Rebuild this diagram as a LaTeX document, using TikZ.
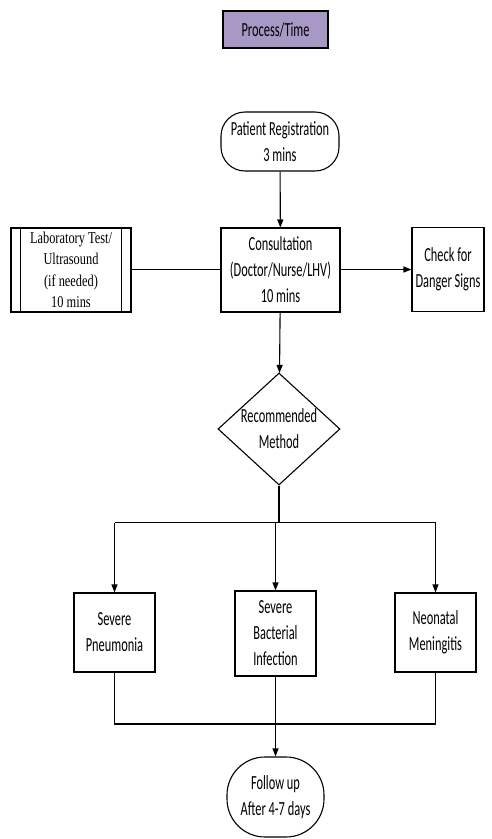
\documentclass[tikz,border=0pt]{standalone}
\usepackage{fontspec}
\setmainfont{Carlito}[FakeStretch=0.62]
\newfontfamily\labfont{Liberation Serif}[FakeStretch=0.75]
\usetikzlibrary{shapes.geometric,arrows.meta,calc}
\definecolor{lavender}{HTML}{A898C6}
\tikzset{
  proc/.style={draw,line width=1.1pt,align=center,inner sep=0pt,font=\fontsize{20}{26}\selectfont},
  term/.style={proc,rounded corners=24pt},
  flow/.style={-{Triangle[length=8pt,width=6pt]},line width=1.1pt},
  wire/.style={line width=1.1pt},
}
\begin{document}
\begin{tikzpicture}[x=1pt,y=1pt]
  \useasboundingbox (0,0) rectangle (492,-839);
  % title
  \node[proc,fill=lavender,minimum width=105pt,minimum height=37pt] (title) at (275.5,-29.5) {Process/Time};
  % main column
  \node[term,minimum width=118pt,minimum height=59pt] (reg) at (280,-141.5) {Patient Registration\\3 mins};
  \node[proc,minimum width=119pt,minimum height=84pt] (cons) at (280.5,-270) {Consultation\\(Doctor/Nurse/LHV)\\10 mins};
  \node[proc,font=\labfont\fontsize{16.5}{21.5}\selectfont,minimum width=120pt,minimum height=84pt] (lab) at (71,-270) {Laboratory Test/\\Ultrasound\\(if needed)\\10 mins};
  \draw[wire] ([xshift=10pt]lab.north west) -- ([xshift=10pt]lab.south west);
  \draw[wire] ([xshift=-10pt]lab.north east) -- ([xshift=-10pt]lab.south east);
  \node[proc,minimum width=72pt,minimum height=84pt] (chk) at (448,-269.5) {Check for\\Danger Signs};
  \node[proc,shape=diamond,aspect=1.09,minimum width=122pt,minimum height=112pt] (dec) at (279,-429) {Recommended\\Method};
  % outcomes
  \node[proc,minimum width=81pt,minimum height=79pt] (sp) at (114.5,-632.5) {Severe\\Pneumonia};
  \node[proc,minimum width=81pt,minimum height=85pt] (sb) at (275.5,-633.5) {Severe\\Bacterial\\Infection};
  \node[proc,minimum width=81pt,minimum height=79pt] (nm) at (435.5,-632.5) {Neonatal\\Meningitis};
  \node[proc,rounded corners=38pt,minimum width=97pt,minimum height=80pt] (fu) at (275.5,-797) {Follow up\\After 4-7 days};
  % connectors
  \draw[flow] (reg) -- (cons);
  \draw[wire] (lab.east |- chk.west) -- (cons.west |- chk.west);
  \draw[flow] (cons.east |- chk.west) -- (chk.west);
  \draw[flow] (cons) -- (dec);
  \coordinate (split) at ($(dec.south)+(0,-37)$);
  \draw[wire] (dec.south) -- (split);
  \draw[wire] (sp.north |- split) -- (nm.north |- split);
  \foreach \n in {sp,sb,nm}
    \draw[flow] (\n.north |- split) -- (\n.north);
  \coordinate (merge) at (0,-724);
  \draw[wire] (sp.south) -- (sp.south |- merge) -- (nm.south |- merge) -- (nm.south);
  \draw[flow] (sb.south) -- (fu.north);
\end{tikzpicture}
\end{document}
